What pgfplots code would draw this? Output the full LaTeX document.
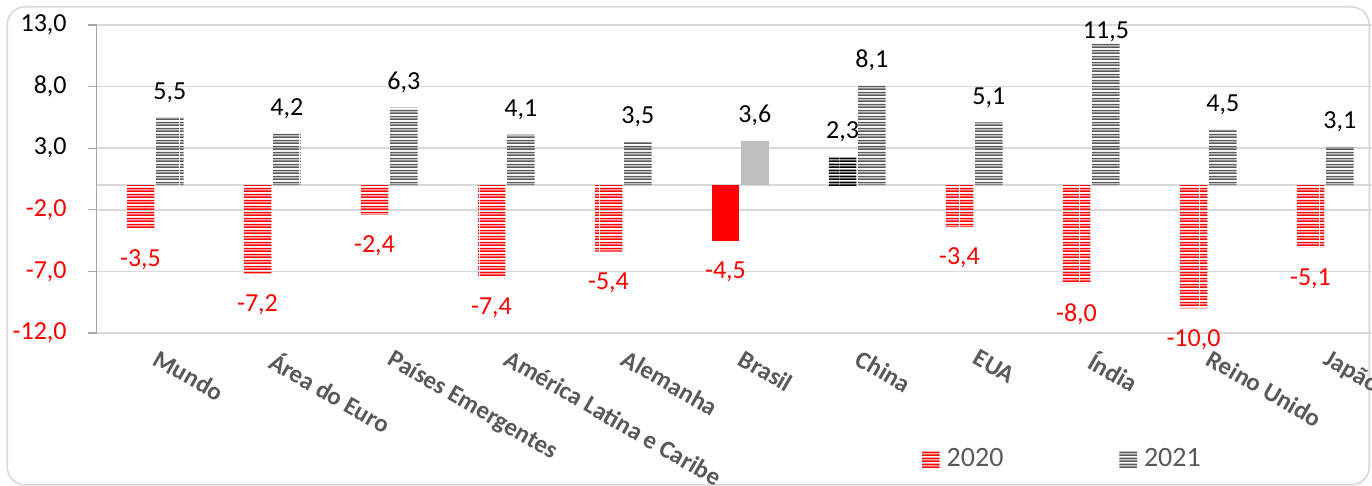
\documentclass[border=0pt]{standalone}
\usepackage{pgfplots}
\pgfplotsset{compat=1.18}
\usepackage{fontspec}
\setmainfont{Carlito}
\usetikzlibrary{patterns}
\pgfdeclarepatternformonly{hstripes}{\pgfqpoint{0pt}{0pt}}{\pgfqpoint{30pt}{3pt}}{\pgfqpoint{30pt}{3pt}}{%
  \pgfpathrectangle{\pgfqpoint{0pt}{0pt}}{\pgfqpoint{30pt}{0.95pt}}%
  \pgfpathrectangle{\pgfqpoint{0pt}{1.5pt}}{\pgfqpoint{30pt}{0.95pt}}%
  \pgfusepath{fill}}
\definecolor{txtgray}{HTML}{595959}
\definecolor{bargray}{HTML}{595959}
\definecolor{lightbar}{HTML}{BFBFBF}
\definecolor{gridgray}{HTML}{D9D9D9}
\definecolor{axgray}{HTML}{A6A6A6}
\begin{document}
\begin{tikzpicture}
\path[use as bounding box] (0,0) rectangle (686pt,243pt);
\begin{scope}
\clip (0,0) rectangle (686pt,243pt);
\draw[gridgray, line width=0.8pt, rounded corners=9pt] (3.6pt,0.6pt) rectangle (684.6pt,239.6pt);
\begin{axis}[
  at={(48.35pt,76.5pt)}, anchor=south west,
  scale only axis, width=643.5pt, height=154pt,
  xmin=-0.5, xmax=10.5, ymin=-12, ymax=13,
  ybar, bar width=13.75pt,
  legend image code/.code={\path[#1, draw=none] (0pt,-4.5pt) rectangle (8.8pt,4.5pt);},
  axis x line*=bottom, axis y line*=left,
  x axis line style={draw=none},
  y axis line style={draw=axgray, line width=0.6pt, -},
  xtick={0,...,10},
  xticklabels={Mundo, Área do Euro, Países Emergentes, América Latina e Caribe, Alemanha, Brasil, China, EUA, Índia, Reino Unido, Japão},
  xtick style={draw=none},
  xticklabel style={rotate=-30, anchor=north west, inner sep=0pt, font=\fontsize{12.5}{15}\selectfont\bfseries, text=txtgray, yshift=-1.4pt, xshift=3.9pt},
  ytick={-12,-7,-2,3,8,13},
  yticklabels={{\textcolor{red}{-12,0}},{\textcolor{red}{-7,0}},{\textcolor{red}{-2,0}},{3,0},{8,0},{13,0}},
  ytick style={draw=axgray, line width=0.6pt},
  tick align=outside, major tick length=4.5pt,
  yticklabel style={anchor=east, inner sep=0pt, font=\fontsize{13}{15}\selectfont, xshift=-10.35pt},
  ymajorgrids, major grid style={gridgray, line width=0.8pt},
  extra y ticks={0}, extra y tick labels={},
  extra y tick style={grid=major, major tick length=0pt},
  /pgf/number format/use comma, /pgf/number format/fixed,
  /pgf/number format/fixed zerofill, /pgf/number format/precision=1,
  /pgf/number format/assume math mode=true,
  legend columns=2,
  legend style={at={(0.641,-0.41)}, anchor=west, draw=none, fill=none, inner sep=0pt,
    font=\fontsize{14}{16}\selectfont, text=txtgray,
    /tikz/every even column/.append style={column sep=56pt}, cells={anchor=west},
    /tikz/every odd column/.append style={column sep=1.5pt}},
]
% 2020 (hatched red)
\addplot[draw=none, pattern=hstripes, pattern color=red,
  bar shift=-7.35pt, nodes near coords,
  every node near coord/.append style={anchor=center, yshift=-15.5pt, text=red, font=\fontsize{13}{15}\selectfont}]
  coordinates {(0,-3.5) (1,-7.2) (2,-2.4) (3,-7.4) (4,-5.4) (7,-3.4) (8,-8.0) (9,-10.0) (10,-5.1)};
\addlegendentry{2020}
% 2021 (hatched gray)
\addplot[draw=none, pattern=hstripes, pattern color=bargray,
  bar shift=7.35pt, nodes near coords, visualization depends on={rawy \as \rawy},
  every node near coord/.append style={anchor=center, yshift={ifthenelse(\rawy>11,6,12.5)}, text=black, font=\fontsize{13}{15}\selectfont}]
  coordinates {(0,5.5) (1,4.2) (2,6.3) (3,4.1) (4,3.5) (6,8.1) (7,5.1) (8,11.5) (9,4.5) (10,3.1)};
\addlegendentry{2021}
% China 2020 (hatched black)
\addplot[forget plot, draw=none, pattern=hstripes, pattern color=black,
  bar shift=-7.35pt, nodes near coords,
  every node near coord/.append style={anchor=center, yshift=12.5pt, text=black, font=\fontsize{13}{15}\selectfont}]
  coordinates {(6,2.3)};
% Brasil 2020 (solid red)
\addplot[forget plot, draw=none, fill=red,
  bar shift=-7.35pt, nodes near coords,
  every node near coord/.append style={anchor=center, yshift=-15.5pt, text=red, font=\fontsize{13}{15}\selectfont}]
  coordinates {(5,-4.5)};
% Brasil 2021 (solid light gray)
\addplot[forget plot, draw=none, fill=lightbar,
  bar shift=7.35pt, nodes near coords,
  every node near coord/.append style={anchor=center, yshift=12.5pt, text=black, font=\fontsize{13}{15}\selectfont}]
  coordinates {(5,3.6)};
\end{axis}
\end{scope}
\end{tikzpicture}
\end{document}
